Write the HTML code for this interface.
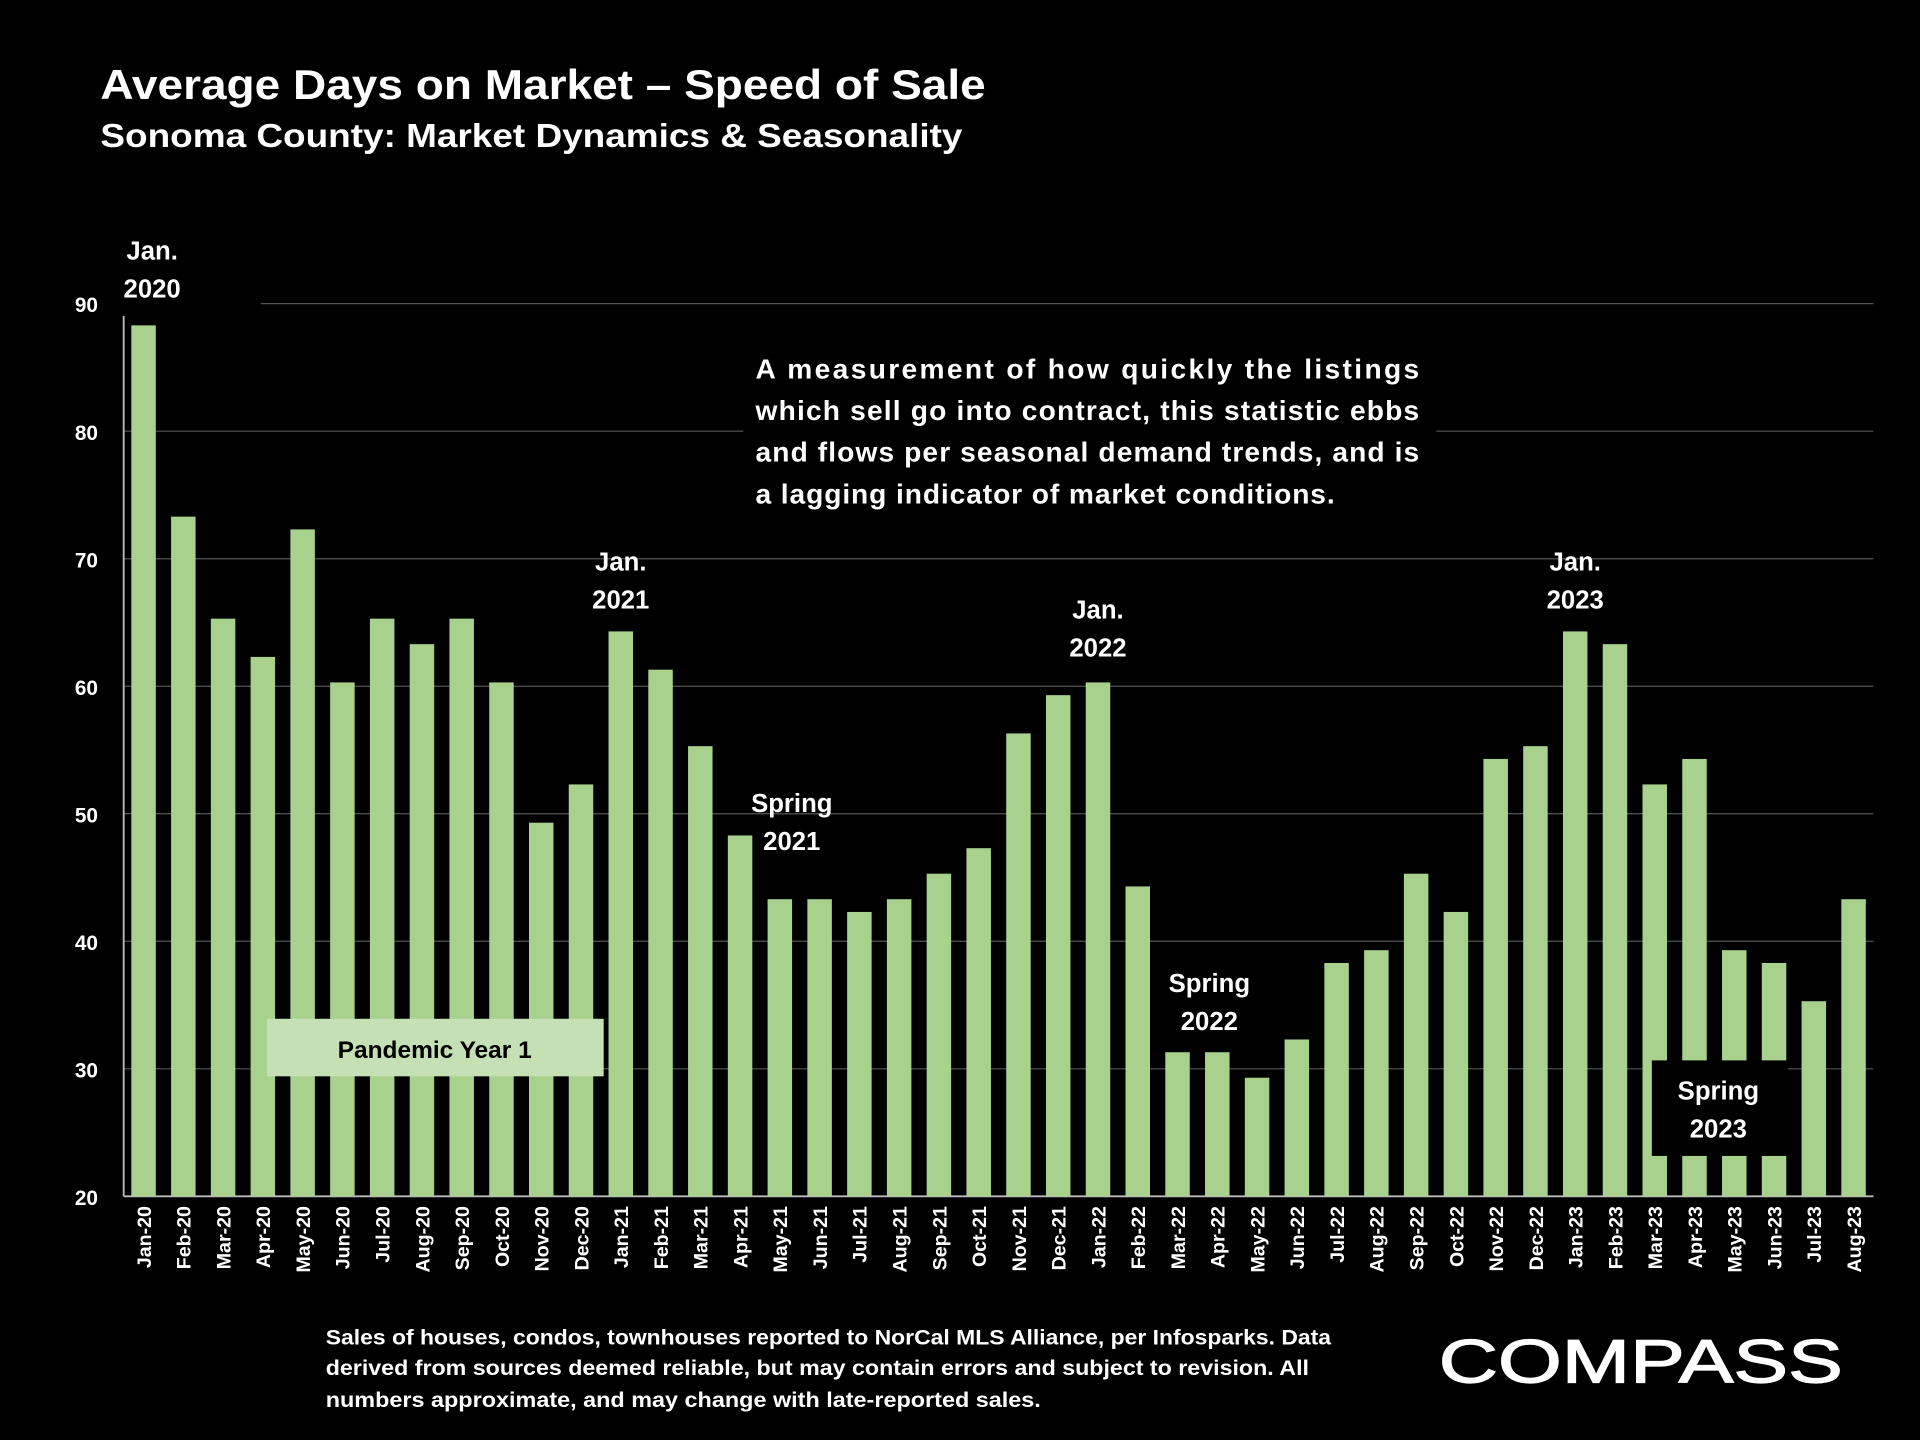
<!DOCTYPE html>
<html><head><meta charset="utf-8"><style>
html,body{margin:0;padding:0;background:#000;width:1920px;height:1440px;overflow:hidden}
svg{display:block}
text{font-family:"Liberation Sans",Arial,sans-serif;font-weight:bold;fill:#fff}
</style></head><body>
<svg id="chart" width="1920" height="1440" viewBox="0 0 1568 1176" xmlns="http://www.w3.org/2000/svg">
<rect width="1568" height="1176" fill="#000"/>
<text x="82" y="81" font-size="34" textLength="723" lengthAdjust="spacingAndGlyphs">Average Days on Market – Speed of Sale</text>
<text x="82" y="120" font-size="27" textLength="704" lengthAdjust="spacingAndGlyphs">Sonoma County: Market Dynamics &amp; Seasonality</text>
<g id="grid"></g>
<g id="bars"></g>
<g id="yticks"></g>
<g id="xticks"></g>
<g>
<rect x="607" y="282" width="566" height="140" fill="#000"/>
<text x="617" y="309" font-size="23" textLength="542" lengthAdjust="spacing">A measurement of how quickly the listings</text>
<text x="617" y="343" font-size="23" textLength="542" lengthAdjust="spacing">which sell go into contract, this statistic ebbs</text>
<text x="617" y="377" font-size="23" textLength="542" lengthAdjust="spacing">and flows per seasonal demand trends, and is</text>
<text x="617" y="411" font-size="23" textLength="473" lengthAdjust="spacing">a lagging indicator of market conditions.</text>
</g>
<g>
<rect x="218" y="832" width="275" height="47" fill="#c5e0b4"/>
<text x="355" y="864" font-size="20" text-anchor="middle" style="fill:#000">Pandemic Year 1</text>
</g>
<rect x="1349" y="866" width="111" height="78" fill="#000"/>
<g id="annotations" font-size="21" text-anchor="middle"></g>
<g font-size="17.5">
<text x="266" y="1098" textLength="821" lengthAdjust="spacingAndGlyphs">Sales of houses, condos, townhouses reported to NorCal MLS Alliance, per Infosparks. Data</text>
<text x="266" y="1123" textLength="803" lengthAdjust="spacingAndGlyphs">derived from sources deemed reliable, but may contain errors and subject to revision. All</text>
<text x="266" y="1149" textLength="584" lengthAdjust="spacingAndGlyphs">numbers approximate, and may change with late-reported sales.</text>
</g>
<text x="1175" y="1129" font-size="50" textLength="330" lengthAdjust="spacingAndGlyphs" style="font-weight:normal;stroke:#fff;stroke-width:1">COMPASS</text>
</svg>
<script>
const categories=["Jan-20","Feb-20","Mar-20","Apr-20","May-20","Jun-20","Jul-20","Aug-20","Sep-20","Oct-20","Nov-20","Dec-20","Jan-21","Feb-21","Mar-21","Apr-21","May-21","Jun-21","Jul-21","Aug-21","Sep-21","Oct-21","Nov-21","Dec-21","Jan-22","Feb-22","Mar-22","Apr-22","May-22","Jun-22","Jul-22","Aug-22","Sep-22","Oct-22","Nov-22","Dec-22","Jan-23","Feb-23","Mar-23","Apr-23","May-23","Jun-23","Jul-23","Aug-23"];
const values=[88.3,73.3,65.3,62.3,72.3,60.3,65.3,63.3,65.3,60.3,49.3,52.3,64.3,61.3,55.3,48.3,43.3,43.3,42.3,43.3,45.3,47.3,56.3,59.3,60.3,44.3,31.3,31.3,29.3,32.3,38.3,39.3,45.3,42.3,54.3,55.3,64.3,63.3,52.3,54.3,39.3,38.3,35.3,43.3];
const yTicks=[20,30,40,50,60,70,80,90];
const annotationLabels=[["Jan.","2020",0,204],["Jan.","2021",12,458],["Spring","2021",16.3,655],["Jan.","2022",24,497],["Spring","2022",26.8,802],["Jan.","2023",36,458],["Spring","2023",39.6,890]];
const NS="http://www.w3.org/2000/svg";
const x0=101,x1=1530,yMin=20,yMax=90,yTop=248,yBot=977;
const step=(x1-x0)/categories.length;
const xc=i=>x0+step*(i+0.5);
const y=v=>yBot-(v-yMin)/(yMax-yMin)*(yBot-yTop);
function mk(tag,parent,attrs){const e=document.createElementNS(NS,tag);for(const k in attrs)e.setAttribute(k,attrs[k]);parent.appendChild(e);return e;}
const grid=document.getElementById('grid'),bars=document.getElementById('bars'),yt=document.getElementById('yticks'),xt=document.getElementById('xticks'),ann=document.getElementById('annotations');
yTicks.forEach(t=>{
  if(t>yMin){const l=mk('line',grid,{x1:t===90?213:x0,x2:x1,y1:y(t),y2:y(t),stroke:'#555','stroke-width':1});
  
  }
  const tx=mk('text',yt,{x:80,y:y(t)+7,'font-size':17,'text-anchor':'end'});tx.textContent=t;
  
  
});
const ax=mk('line',grid,{x1:x0,x2:x1,y1:yBot,y2:yBot,stroke:'#bbb','stroke-width':1.5});


const ay=mk('line',grid,{x1:x0,x2:x0,y1:258,y2:yBot,stroke:'#bbb','stroke-width':1.5});


values.forEach((v,i)=>{
  const r=mk('rect',bars,{x:xc(i)-10,y:y(v),width:20,height:yBot-y(v),fill:'#a9d18e'});
  
  
  const cx=xc(i);
  const t=mk('text',xt,{x:0,y:0,'font-size':16,'text-anchor':'end',transform:`translate(${cx+6},985) rotate(-90)`});
  t.textContent=categories[i];
  
  
});
annotationLabels.forEach(a=>{
  const cx=xc(a[2])+ (a[2]===0?7:0);
  const t1=mk('text',ann,{x:cx,y:a[3]+8});t1.textContent=a[0];
  const t2=mk('text',ann,{x:cx,y:a[3]+39});t2.textContent=a[1];
  
  
  
  
});
</script>
</body></html>
